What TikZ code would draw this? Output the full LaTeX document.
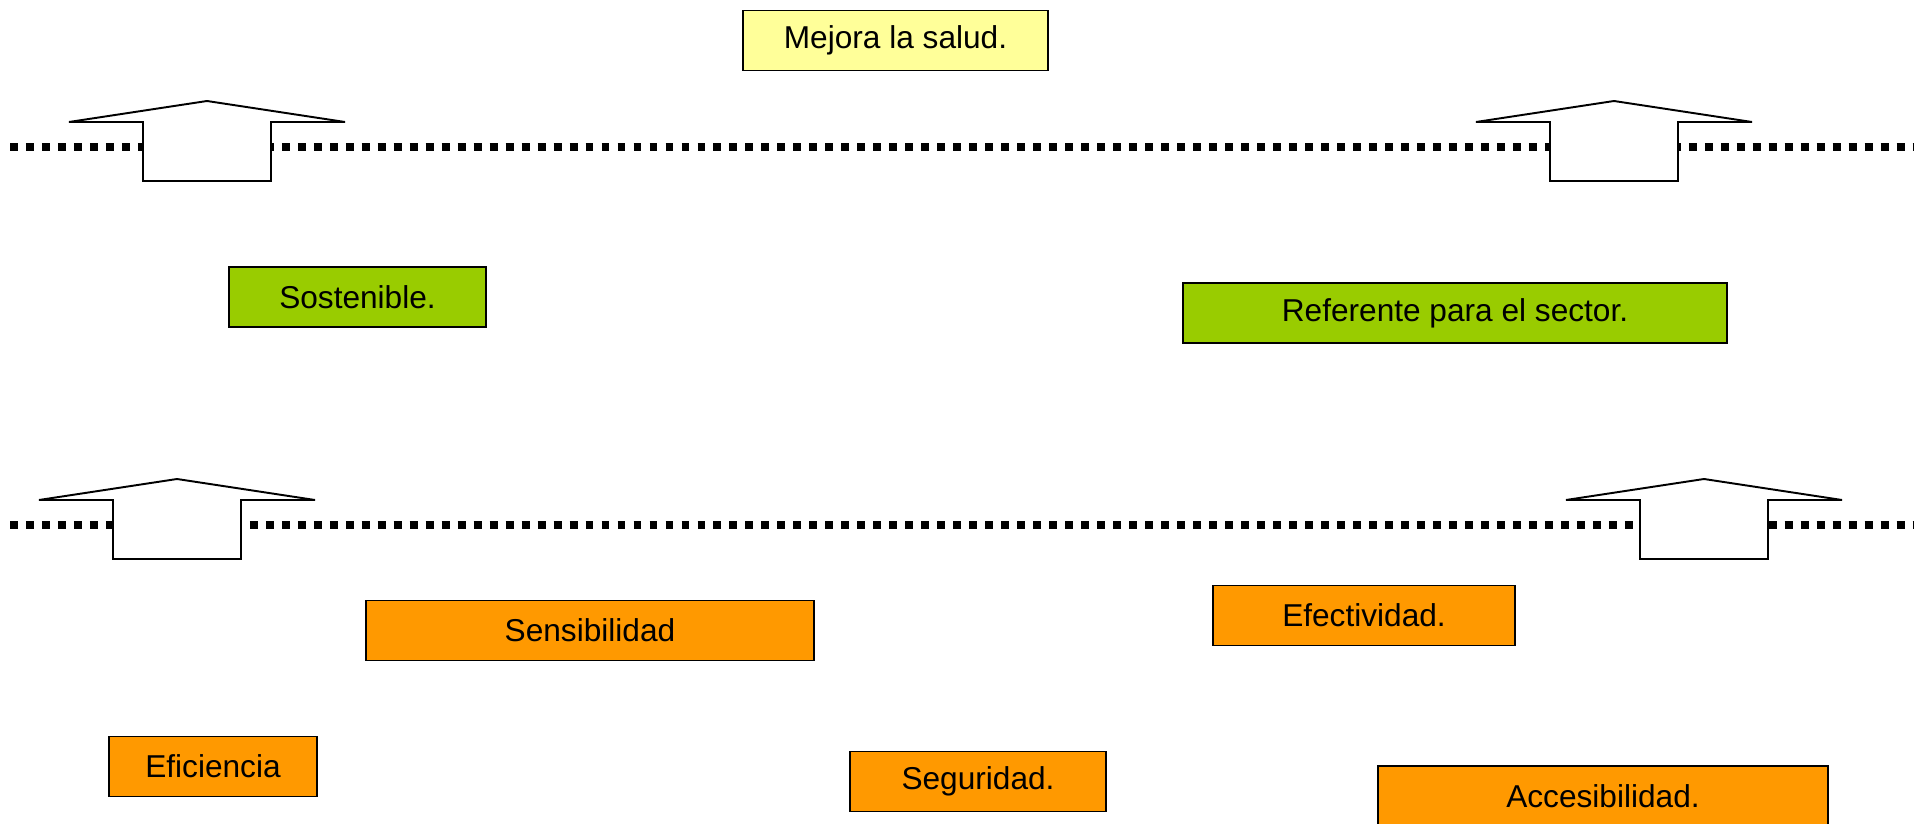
\documentclass[tikz,border=0pt]{standalone}
\usepackage{fontspec}
\setmainfont{Liberation Sans}
\definecolor{saludyellow}{HTML}{FFFF99}
\definecolor{metagreen}{HTML}{99CC00}
\definecolor{calidadorange}{HTML}{FF9900}

\begin{document}
\begin{tikzpicture}[x=0.02cm,y=-0.02cm,line join=miter,
        box/.style={draw,line width=1.1pt,minimum height=1.2cm,inner sep=0pt,
          font=\fontsize{18}{22}\selectfont},
        wd/.style={minimum width=#1*0.02cm},
        salud box/.style={box,fill=saludyellow},
        meta box/.style={box,fill=metagreen},
        calidad box/.style={box,fill=calidadorange},
        level line/.style={line width=4.5pt,dash pattern=on 4.5pt off 4.6pt},
        uparrow/.pic={
          \filldraw[fill=white,line width=1.1pt] (0,0) -- (138,21) -- (64,21)
            -- (64,80) -- (-64,80) -- (-64,21) -- (-138,21) -- cycle;}]

      \useasboundingbox (0,0) rectangle (1914,824);

      % dotted levels
      \draw[level line] (10,147) -- (1914,147);
      \draw[level line] (10,525) -- (1914,525);

      % block arrows
      \pic at (207,101) {uparrow};
      \pic at (1614,101) {uparrow};
      \pic at (177,479) {uparrow};
      \pic at (1704,479) {uparrow};

      \node[salud box,wd=305] (salud) at (895.5,40.5) {Mejora la salud.};

      \node[meta box,wd=257] (sostenible) at (357.5,297) {Sostenible.};
      \node[meta box,wd=544] (referente) at (1455,313) {Referente para el sector.};

      \node[calidad box,wd=448] (sensibilidad) at (590,630.5) {Sensibilidad};
      \node[calidad box,wd=302] (efectividad) at (1364,615.5) {Efectividad.};
      \node[calidad box,wd=208] (eficiencia) at (213,766.5) {Eficiencia};
      \node[calidad box,wd=256] (seguridad) at (978,781.5) {Seguridad.};
      \node[calidad box,wd=450] (accesibilidad) at (1603,796) {Accesibilidad.};
\end{tikzpicture}
\end{document}
